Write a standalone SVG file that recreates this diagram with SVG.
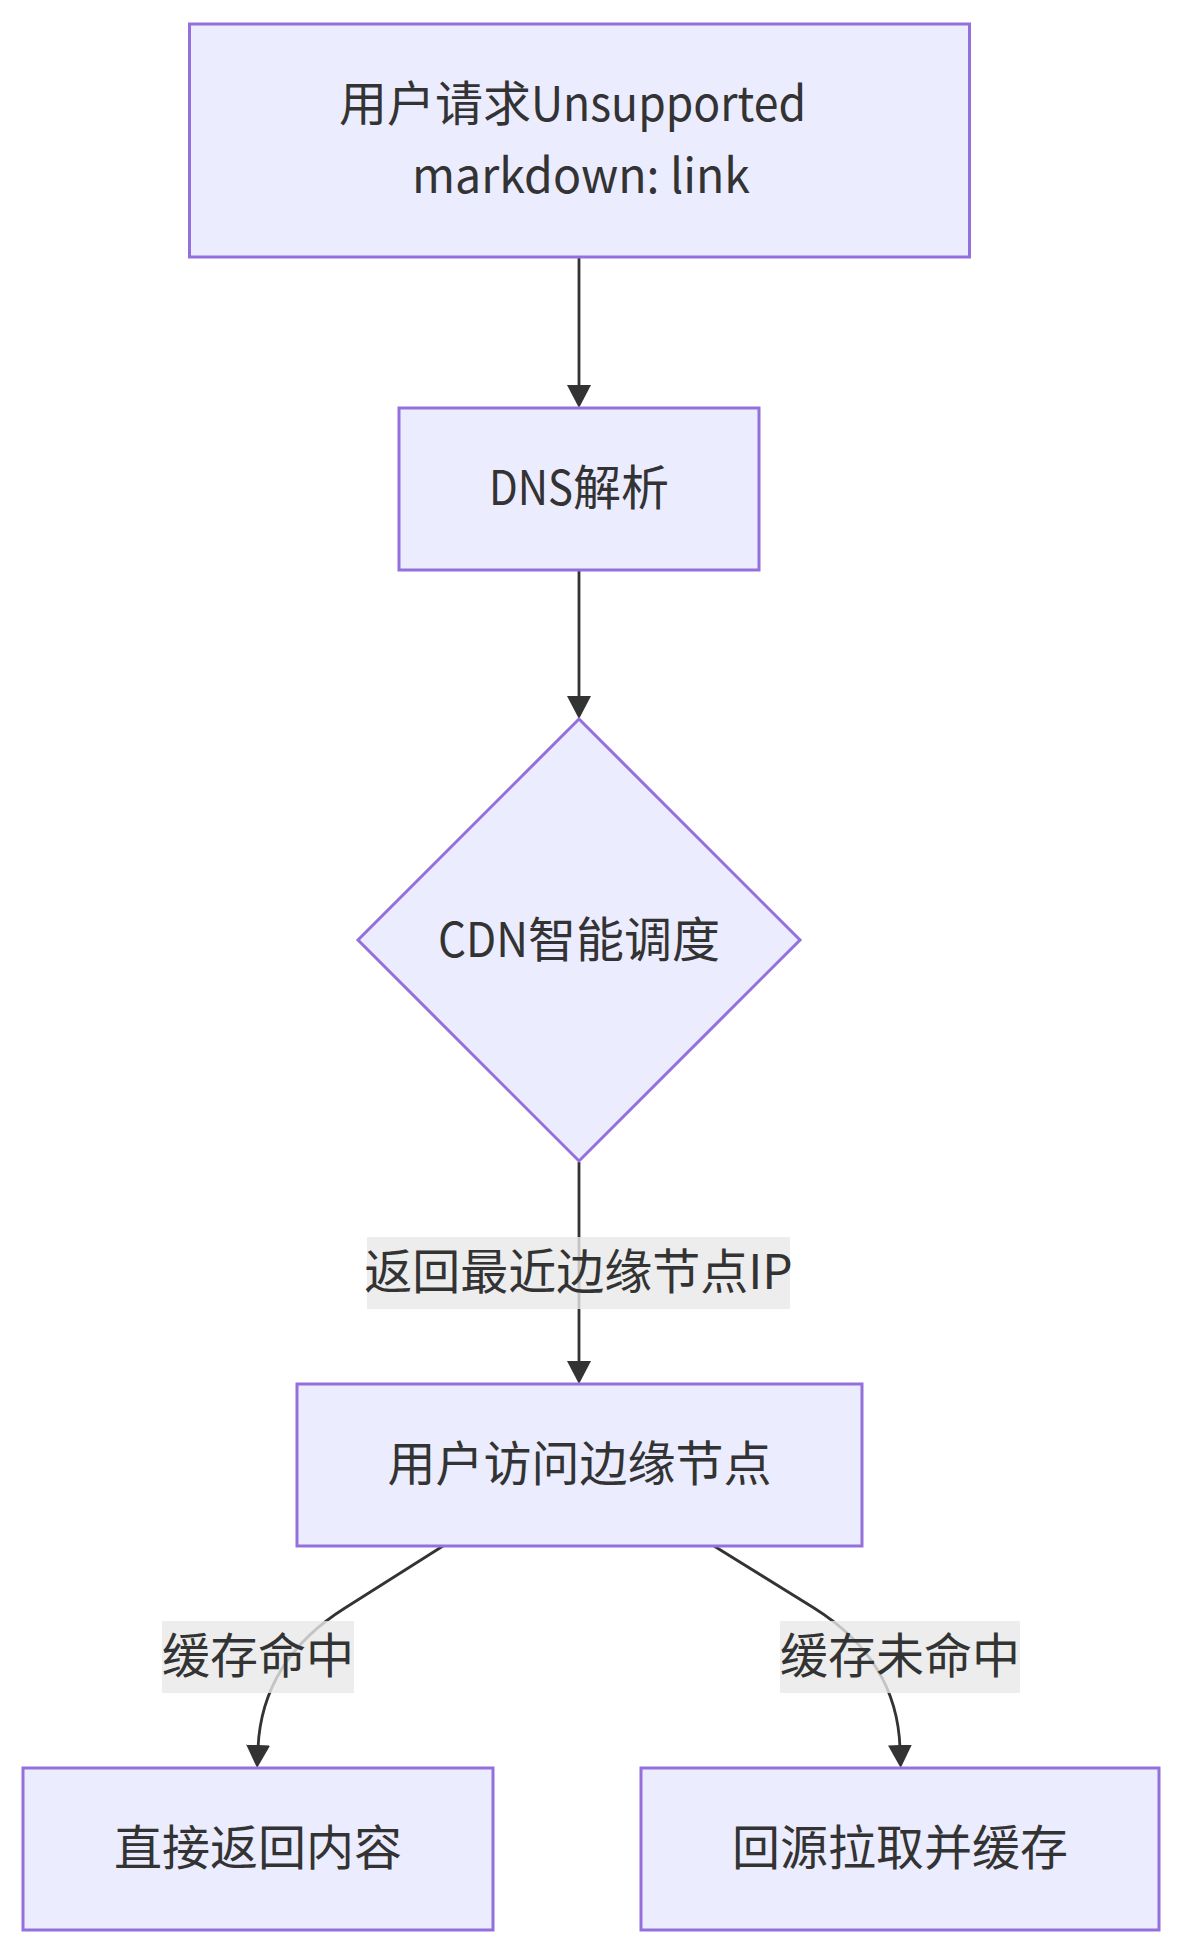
<svg xmlns="http://www.w3.org/2000/svg" width="1182" height="1954" viewBox="0 0 1182 1954">
<style>
.node rect, .node polygon { fill: #ECECFF; stroke: #9370DB; stroke-width: 3; }
.node text { font-family: "Noto Sans CJK SC", "Noto Sans", sans-serif; font-size: 48px; fill: #333333; text-anchor: middle; }
.node text.l { text-anchor: start; }
.edge { fill: none; stroke: #333333; stroke-width: 2.8; }
.elabel rect { fill: rgba(232,232,232,0.8); stroke: none; }
.elabel text { font-family: "Noto Sans CJK SC", "Noto Sans", sans-serif; font-size: 48px; fill: #333333; text-anchor: middle; }
</style>
<defs>
<marker id="arrow" markerUnits="userSpaceOnUse" markerWidth="24" markerHeight="24" refX="3" refY="12" orient="auto">
<path d="M0,0 L23,12 L0,24 z" fill="#333333"/>
</marker>
</defs>
<rect width="1182" height="1954" fill="#ffffff"/>
<g id="connectors">
<path class="edge" d="M579,258 L579,388" marker-end="url(#arrow)"/>
<path class="edge" d="M579,570 L579,699" marker-end="url(#arrow)"/>
<path class="edge" d="M579,1162 L579,1364" marker-end="url(#arrow)"/>
<path class="edge" d="M443,1546 L345,1608 Q262,1660 258,1748" marker-end="url(#arrow)"/>
<path class="edge" d="M714,1546 L814,1608 Q897,1660 900,1748" marker-end="url(#arrow)"/>
</g>
<g id="edge-labels">
<g class="elabel" id="label-ip"><rect x="367" y="1237" width="423" height="72"/><text x="578.5" y="1289">返回最近边缘节点IP</text></g>
<g class="elabel" id="label-hit"><rect x="162" y="1621" width="192" height="72"/><text x="258" y="1673">缓存命中</text></g>
<g class="elabel" id="label-miss"><rect x="780" y="1621" width="240" height="72"/><text x="900" y="1673">缓存未命中</text></g>
</g>
<g class="node" id="node-request">
<rect x="189.5" y="24" width="780" height="233"/>
<text class="l" x="339" y="121">用户请求<tspan textLength="275" lengthAdjust="spacingAndGlyphs">Unsupported</tspan></text>
<text class="l" x="412" y="193"><tspan textLength="338" lengthAdjust="spacingAndGlyphs">markdown: link</tspan></text>
</g>
<g class="node" id="node-dns">
<rect x="399" y="408" width="360" height="162"/>
<text class="l" x="489" y="505"><tspan textLength="84" lengthAdjust="spacingAndGlyphs">DNS</tspan>解析</text>
</g>
<g class="node" id="node-cdn">
<polygon points="579,719 800,940 579,1161 358,940"/>
<text class="l" x="438" y="956.5"><tspan textLength="90" lengthAdjust="spacingAndGlyphs">CDN</tspan>智能调度</text>
</g>
<g class="node" id="node-edge">
<rect x="297" y="1384" width="565" height="162"/>
<text x="579.5" y="1481">用户访问边缘节点</text>
</g>
<g class="node" id="node-hit">
<rect x="23" y="1768" width="470" height="162"/>
<text x="258" y="1865">直接返回内容</text>
</g>
<g class="node" id="node-miss">
<rect x="641" y="1768" width="518" height="162"/>
<text x="900" y="1865">回源拉取并缓存</text>
</g>
</svg>
